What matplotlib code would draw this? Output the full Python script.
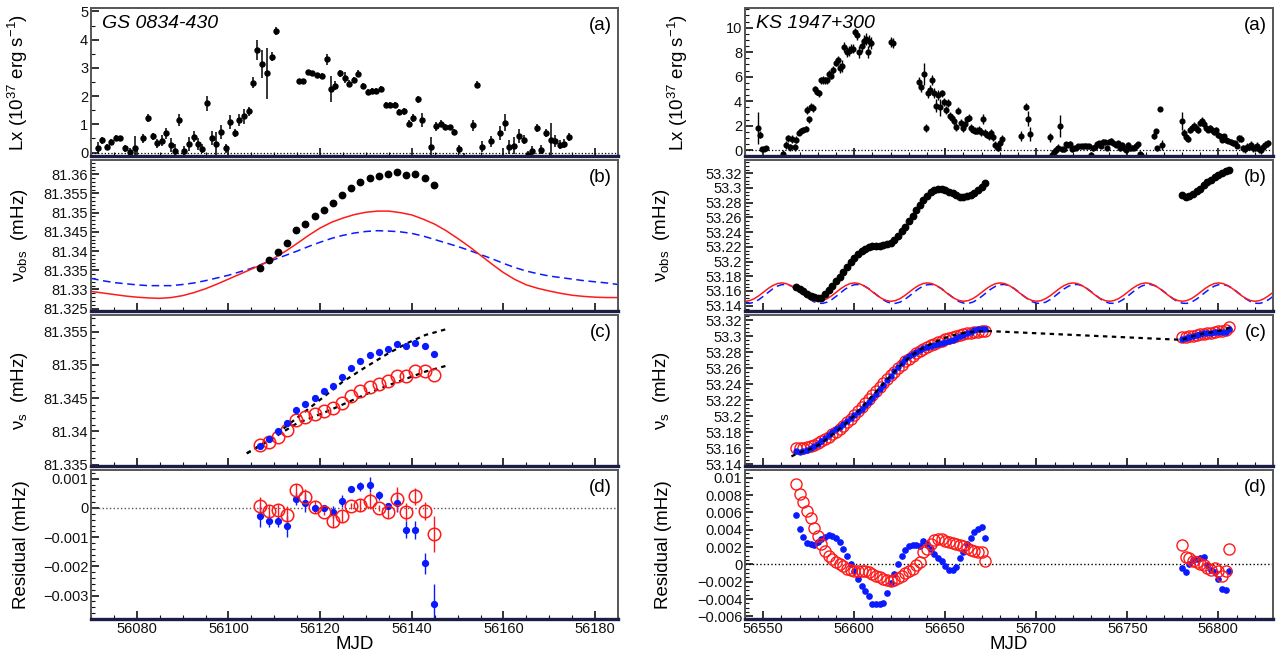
import numpy as np
import matplotlib
matplotlib.use('Agg')
import matplotlib.pyplot as plt
from matplotlib.ticker import MultipleLocator, FuncFormatter, NullFormatter

plt.rcParams['font.family'] = ['Liberation Sans', 'DejaVu Sans']
plt.rcParams['mathtext.fontset'] = 'custom'
plt.rcParams['mathtext.rm'] = 'Liberation Sans'
plt.rcParams['mathtext.it'] = 'Liberation Sans:italic'

# ---------------- GS 0834-430 ----------------
gs_lx_mjd = [56071.5, 56072.4, 56073.4, 56074.4, 56075.5, 56076.4, 56077.5, 56078.5, 56079.5, 56081.4,
             56082.4, 56083.5, 56084.4, 56085.4, 56086.4, 56087.4, 56088.4, 56089.3, 56090.4, 56091.4,
             56092.4, 56093.3, 56094.3, 56095.4, 56096.4, 56097.3, 56098.4, 56099.4, 56100.4, 56101.4,
             56102.3, 56103.4, 56104.4, 56105.4, 56106.3, 56107.3, 56108.4, 56109.4, 56110.3,
             56115.3, 56116.3, 56117.4, 56118.3, 56119.3, 56120.4, 56121.4, 56122.3, 56123.3, 56124.3,
             56125.4, 56126.4, 56127.3, 56128.3, 56129.3, 56130.4, 56131.4, 56132.3, 56133.3, 56134.3,
             56135.3, 56136.3, 56137.3, 56138.3, 56139.3, 56140.3, 56141.3, 56142.3, 56144.3, 56145.3,
             56146.3, 56147.3, 56148.3, 56149.3, 56150.3, 56151.3, 56153.3, 56154.3, 56155.3, 56157.3,
             56159.3, 56160.3, 56161.3, 56162.3, 56163.3, 56164.4, 56165.3, 56166.3, 56167.3, 56168.3,
             56169.3, 56170.3, 56171.3, 56172.3, 56173.3, 56174.3]
gs_lx = [0.18, 0.43, 0.20, 0.37, 0.53, 0.50, 0.15, 0.02, 0.18, 0.50,
         1.22, 0.58, 0.33, 0.42, 0.68, 0.26, 0.06, 1.15, 0.05, 0.31,
         0.57, 0.30, 0.14, 1.74, 0.52, 0.32, 0.74, 0.15, 1.07, 0.70,
         1.15, 1.28, 1.46, 2.48, 3.64, 3.15, 2.81, 3.40, 4.30,
         2.54, 2.53, 2.84, 2.81, 2.74, 2.72, 3.30, 2.25, 2.37, 2.81,
         2.65, 2.44, 2.57, 2.79, 2.36, 2.16, 2.17, 2.17, 2.26, 1.70,
         1.69, 1.68, 1.44, 1.46, 1.02, 1.23, 1.89, 1.15, 0.21, 0.93,
         1.02, 0.90, 0.89, 0.72, 0.12, -0.31, 0.96, 2.41, 0.21, 0.40,
         0.70, 1.05, 0.19, 0.25, 0.58, 0.46, -0.09, 0.05, 0.88, 0.11,
         0.70, 0.46, 0.41, 0.28, 0.32, 0.56]
gs_lx_err = [0.2, 0.12, 0.12, 0.1, 0.1, 0.1, 0.12, 0.15, 0.4, 0.15,
             0.15, 0.12, 0.15, 0.2, 0.2, 0.25, 0.25, 0.2, 0.2, 0.25,
             0.2, 0.2, 0.15, 0.25, 0.25, 0.4, 0.25, 0.15, 0.25, 0.15,
             0.2, 0.25, 0.15, 0.2, 0.35, 0.5, 0.9, 0.15, 0.15,
             0.08, 0.08, 0.08, 0.08, 0.08, 0.1, 0.2, 0.45, 0.15, 0.12,
             0.2, 0.12, 0.12, 0.12, 0.12, 0.1, 0.1, 0.1, 0.1, 0.1,
             0.1, 0.1, 0.12, 0.12, 0.12, 0.15, 0.12, 0.25, 0.35, 0.15,
             0.12, 0.1, 0.08, 0.1, 0.15, 0.3, 0.2, 0.12, 0.2, 0.2,
             0.25, 0.3, 0.25, 0.3, 0.25, 0.15, 0.15, 0.2, 0.15, 0.15,
             0.15, 0.6, 0.2, 0.15, 0.15, 0.15]

gs_t = [56106.8, 56108.8, 56110.8, 56112.8, 56114.8, 56116.8, 56118.8, 56120.8, 56122.8, 56124.8,
        56126.8, 56128.8, 56130.8, 56132.8, 56134.8, 56136.8, 56138.8, 56140.8, 56142.8, 56144.8]
gs_nu_obs = [81.3355, 81.3376, 81.3397, 81.3420, 81.3454, 81.3471, 81.3490, 81.3508, 81.3525, 81.3545,
             81.3564, 81.3580, 81.3591, 81.3596, 81.3600, 81.3606, 81.3599, 81.3601, 81.3591, 81.3573]

gs_model_t = [56070.0, 56072.5, 56075.0, 56077.5, 56080.0, 56082.5, 56085.0, 56087.5, 56090.0, 56092.5,
              56095.0, 56097.5, 56100.0, 56102.5, 56105.0, 56107.5, 56110.0, 56112.5, 56115.0, 56117.5,
              56120.0, 56122.5, 56125.0, 56127.5, 56130.0, 56132.5, 56135.0, 56137.5, 56140.0, 56142.5,
              56145.0, 56147.5, 56150.0, 56152.5, 56155.0, 56157.5, 56160.0, 56162.5, 56165.0, 56167.5,
              56170.0, 56172.5, 56175.0, 56177.5, 56180.0, 56182.5, 56185.0]
gs_model_red = [81.3295, 81.3291, 81.3287, 81.3283, 81.3280, 81.3278, 81.3277, 81.3279, 81.3284, 81.3292,
                81.3302, 81.3314, 81.3327, 81.3340, 81.3353, 81.3366, 81.3382, 81.3400, 81.3420, 81.3441,
                81.3460, 81.3475, 81.3486, 81.3495, 81.3501, 81.3504, 81.3504, 81.3500, 81.3494, 81.3483,
                81.3470, 81.3453, 81.3433, 81.3412, 81.3389, 81.3366, 81.3344, 81.3326, 81.3312, 81.3303,
                81.3296, 81.3290, 81.3285, 81.3282, 81.3280, 81.3279, 81.3279]
gs_model_blue = [81.3329, 81.3323, 81.3318, 81.3315, 81.3312, 81.3310, 81.3310, 81.3310, 81.3313, 81.3317,
                 81.3323, 81.3330, 81.3337, 81.3346, 81.3355, 81.3367, 81.3378, 81.3389, 81.3400, 81.3412,
                 81.3423, 81.3433, 81.3441, 81.3447, 81.3451, 81.3453, 81.3452, 81.3450, 81.3446, 81.3439,
                 81.3430, 81.3421, 81.3412, 81.3402, 81.3391, 81.3380, 81.3368, 81.3357, 81.3348, 81.3341,
                 81.3335, 81.3331, 81.3327, 81.3323, 81.3320, 81.3317, 81.3313]

gs_nus_blue = [81.33785, 81.33882, 81.33999, 81.34126, 81.34324, 81.34406, 81.34497, 81.34604, 81.34681, 81.34813,
               81.34956, 81.35057, 81.35154, 81.35195, 81.35235, 81.35312, 81.35281, 81.35332, 81.35281, 81.35169]
gs_nus_blue_err = [0.0001, 0.0001, 0.0001, 0.0001, 0.0001, 0.0001, 0.0001, 0.0001, 0.0001, 0.0001,
                   0.0001, 0.0001, 0.0001, 0.0001, 0.0001, 0.0001, 0.0001, 0.0001, 0.0001, 0.00025]
gs_nus_red = [81.33795, 81.33846, 81.33922, 81.34014, 81.34177, 81.34218, 81.34263, 81.34304, 81.34345, 81.34431,
              81.34533, 81.34609, 81.34670, 81.34711, 81.34752, 81.34838, 81.34838, 81.34915, 81.34915, 81.34854]
gs_fit_t = [56104.0, 56108.8, 56114.9, 56120.8, 56124.8, 56130.0, 56134.8, 56139.1, 56143.0, 56147.7]
gs_fit_upper = [81.3367, 81.3387, 81.3420, 81.3452, 81.3474, 81.3497, 81.3517, 81.3533, 81.3545, 81.3554]
gs_fit_lower = [81.3367, 81.3386, 81.3412, 81.3428, 81.3440, 81.3456, 81.3469, 81.3480, 81.3490, 81.3499]

gs_res_blue = [-0.00029, -0.00044, -0.00046, -0.00063, 0.00031, 0.00017, 0.00001, 0.00001, -0.00014, 0.00023,
               0.00066, 0.00074, 0.00080, 0.00044, 0.00006, 0.00017, -0.00074, -0.00075, -0.00190, -0.00330]
gs_res_blue_err = [0.00035, 0.0002, 0.0002, 0.00035, 0.0002, 0.0003, 0.0001, 0.0001, 0.0002, 0.0002,
                   0.0001, 0.00015, 0.00025, 0.00015, 0.0001, 0.0003, 0.0003, 0.0003, 0.00035, 0.0007]
gs_res_red = [0.00006, -0.00010, -0.00008, -0.00023, 0.00061, 0.00036, 0.00003, -0.00014, -0.00045, -0.00028,
              0.00007, 0.00011, 0.00025, 0.00001, -0.00014, 0.00031, -0.00014, 0.00040, -0.00010, -0.00089]
gs_res_red_err = [0.0003, 0.0002, 0.0002, 0.0003, 0.0002, 0.0003, 0.0002, 0.0001, 0.0002, 0.0002,
                  0.0001, 0.0002, 0.0003, 0.0001, 0.0002, 0.0004, 0.0003, 0.0003, 0.0003, 0.0006]

# ---------------- KS 1947+300 ----------------
ks_lx_mjd = [56547.1, 56548.2, 56549.5, 56550.4, 56551.3, 56560.6, 56562.4, 56563.5, 56564.9, 56566.0,
             56567.2, 56568.1, 56569.4, 56570.8, 56572.1, 56573.3, 56574.2, 56575.1, 56576.2, 56577.1,
             56578.2, 56579.3, 56580.5, 56581.6, 56582.7, 56583.9, 56585.0, 56586.1, 56587.5, 56588.6,
             56590.0, 56591.1, 56592.4, 56593.5, 56594.5, 56595.8, 56597.0, 56598.1, 56599.2, 56600.3,
             56601.5, 56602.8, 56604.0, 56605.1, 56606.2, 56607.3, 56608.2, 56609.1, 56620.4, 56621.1,
             56635.8, 56636.9, 56638.3, 56639.4, 56640.3, 56641.4, 56642.6, 56643.7, 56644.8, 56645.9,
             56647.1, 56648.2, 56649.3, 56650.5, 56651.6, 56652.7, 56653.8, 56654.9, 56656.1, 56657.2,
             56658.4, 56659.5, 56660.6, 56661.7, 56662.9, 56664.0, 56665.1, 56666.3, 56667.4, 56668.5,
             56669.6, 56670.8, 56671.9, 56673.0, 56674.2, 56675.3, 56676.4, 56677.5, 56678.7, 56679.8,
             56680.9, 56691.8, 56694.5, 56695.4, 56696.3, 56707.6, 56708.7, 56709.8, 56711.0, 56712.1,
             56713.0, 56714.1, 56715.2, 56716.4, 56717.5, 56718.6, 56719.8, 56720.9, 56722.0, 56723.1,
             56724.3, 56725.4, 56726.5, 56727.7, 56728.8, 56729.9, 56731.0, 56732.2, 56733.3, 56734.4,
             56735.6, 56736.7, 56737.8, 56738.9, 56740.1, 56741.2, 56742.3, 56743.5, 56744.6, 56745.7,
             56746.8, 56748.0, 56749.1, 56750.2, 56751.4, 56752.5, 56753.6, 56754.7, 56755.9, 56757.0,
             56757.7, 56764.4, 56765.6, 56766.3, 56767.8, 56769.0, 56779.8, 56780.9, 56782.1, 56783.2,
             56784.3, 56785.4, 56786.6, 56787.7, 56788.8, 56790.0, 56791.1, 56792.0, 56793.1, 56794.3,
             56795.4, 56796.5, 56797.7, 56798.8, 56799.9, 56801.0, 56802.1, 56803.3, 56804.4, 56805.5,
             56806.7, 56807.8, 56808.9, 56810.0, 56811.2, 56812.3, 56813.4, 56814.6, 56815.7, 56816.8,
             56817.9, 56819.1, 56820.2, 56821.3, 56822.5, 56823.6, 56824.7, 56825.8, 56827.0]
ks_lx = [1.84, 1.28, 0.10, 0.10, 0.20, -0.25, 0.45, 1.00, 0.25, 0.92,
         0.25, 0.87, 1.42, 1.62, 1.70, 1.76, 3.30, 2.54, 3.58, 3.46,
         4.97, 4.78, 4.64, 5.70, 5.75, 5.70, 5.70, 6.26, 6.09, 6.54,
         7.15, 7.37, 6.73, 6.90, 8.40, 8.00, 8.10, 8.30, 8.30, 9.66,
         9.40, 8.00, 8.50, 8.90, 9.05, 8.00, 8.90, 8.75, 8.80, 8.75,
         5.60, 5.14, 6.20, 1.84, 4.70, 4.90, 5.75, 4.70, 3.66, 4.50,
         3.50, 4.64, 3.94, 3.30, 3.88, 2.82, 2.68, 2.40, 1.90, 3.24,
         2.26, 1.84, 2.12, 2.54, 2.68, 1.84, 1.70, 1.62, 1.62, 1.70,
         1.50, 2.54, 1.42, 1.28, 1.15, 1.42, 1.06, 0.45, 0.22, 0.59,
         0.92, 1.20, 3.58, 2.60, 1.34, 1.06, -0.39, -0.10, 0.05, 0.22,
         1.98, 0.08, 0.10, 0.50, 0.45, 0.55, 0.10, 0.17, 0.22, 0.36,
         0.34, 0.36, 0.39, 0.36, 0.34, -0.33, 0.17, 0.25, 0.50, 0.59,
         0.39, 0.73, 0.67, 0.22, 0.73, 0.78, 0.59, 0.45, 0.59, 0.17,
         0.45, 0.22, 0.03, 0.45, 0.17, 0.22, 0.22, 0.39, 0.50, -0.25,
         -0.39, 1.20, 1.56, 0.17, 3.38, 0.45, 2.40, 1.42, 1.06, 0.95,
         1.70, 1.84, 1.98, 1.84, 1.70, 2.26, 2.40, 2.18, 1.84, 1.70,
         1.84, 1.70, 1.48, 1.70, 1.28, 1.15, 0.87, 1.15, 0.87, 0.78,
         0.73, 0.59, 0.59, 0.39, 1.00, 0.95, 0.17, 0.10, 0.30, 0.30,
         0.45, 0.17, 0.22, 0.39, 0.10, 0.00, 0.30, 0.45, 0.59]
ks_lx_err = [1.3, 0.3, 0.15, 0.15, 0.15, 0.3, 0.3, 0.3, 0.3, 0.3,
             0.3, 0.3, 0.2, 0.2, 0.2, 0.2, 0.3, 0.3, 0.3, 0.3,
             0.3, 0.3, 0.3, 0.3, 0.3, 0.3, 0.3, 0.3, 0.3, 0.3,
             0.3, 0.3, 0.4, 0.5, 0.4, 0.4, 0.4, 0.4, 0.4, 0.3,
             0.4, 0.5, 0.5, 0.5, 0.5, 0.5, 0.5, 0.5, 0.4, 0.4,
             0.4, 0.4, 0.9, 0.3, 0.4, 0.4, 0.4, 0.4, 0.5, 0.4,
             0.7, 0.3, 0.3, 0.3, 0.3, 0.3, 0.3, 0.3, 0.3, 0.3,
             0.3, 0.3, 0.3, 0.3, 0.3, 0.3, 0.3, 0.3, 0.3, 0.3,
             0.3, 0.4, 0.3, 0.3, 0.3, 0.3, 0.3, 0.3, 0.3, 0.3,
             0.3, 0.4, 0.3, 0.6, 0.6, 0.4, 0.4, 0.3, 0.3, 0.3,
             0.9, 0.2, 0.2, 0.2, 0.2, 0.2, 0.2, 0.2, 0.2, 0.2,
             0.2, 0.2, 0.2, 0.2, 0.2, 0.2, 0.2, 0.2, 0.2, 0.2,
             0.2, 0.2, 0.2, 0.2, 0.2, 0.2, 0.2, 0.2, 0.2, 0.2,
             0.2, 0.2, 0.2, 0.2, 0.2, 0.2, 0.2, 0.2, 0.2, 0.2,
             0.2, 0.3, 0.2, 0.2, 0.15, 0.4, 0.7, 0.3, 0.3, 0.3,
             0.3, 0.3, 0.3, 0.3, 0.3, 0.3, 0.3, 0.3, 0.2, 0.2,
             0.2, 0.2, 0.2, 0.2, 0.2, 0.2, 0.2, 0.2, 0.2, 0.2,
             0.2, 0.2, 0.2, 0.2, 0.3, 0.3, 0.3, 0.3, 0.3, 0.3,
             0.3, 0.3, 0.3, 0.3, 0.3, 0.3, 0.3, 0.3, 0.3]

ks_t1 = [56568, 56570, 56572, 56574, 56576, 56578, 56580, 56582, 56584, 56586,
         56588, 56590, 56592, 56594, 56596, 56598, 56600, 56602, 56604, 56606,
         56608, 56610, 56612, 56614, 56616, 56618, 56620, 56622, 56624, 56626,
         56628, 56630, 56632, 56634, 56636, 56638, 56640, 56642, 56644, 56646,
         56648, 56650, 56652, 56654, 56656, 56658, 56660, 56662, 56664, 56666,
         56668, 56670, 56672]
ks_t2 = [56780, 56782, 56784, 56786, 56788, 56790, 56792, 56794, 56796, 56798,
         56800, 56802, 56804, 56806]

ks_nu_obs1 = [53.1654, 53.1630, 53.1595, 53.1560, 53.1532, 53.1512, 53.1501, 53.1506, 53.1560, 53.1620,
              53.1672, 53.1730, 53.1790, 53.1857, 53.1925, 53.1997, 53.2052, 53.2102, 53.2150, 53.2176,
              53.2195, 53.2207, 53.2212, 53.2215, 53.2222, 53.2233, 53.2255, 53.2290, 53.2346, 53.2410,
              53.2476, 53.2546, 53.2620, 53.2695, 53.2770, 53.2840, 53.2897, 53.2940, 53.2973, 53.2990,
              53.2990, 53.2976, 53.2950, 53.2925, 53.2902, 53.2882, 53.2875, 53.2884, 53.2904, 53.2932,
              53.2970, 53.3015, 53.3062]
ks_nu_obs2 = [53.2898, 53.2874, 53.2890, 53.2915, 53.2955, 53.2990, 53.3035, 53.3075, 53.3114, 53.3145,
              53.3178, 53.3205, 53.3230, 53.3248]

ks_orb_t = [56540.2, 56542.7, 56545.2, 56547.7, 56550.2, 56552.7, 56555.2, 56557.7, 56560.2, 56562.7, 56565.2, 56567.7, 56570.2, 56572.7, 56575.2, 56577.7,
            56580.2, 56582.7, 56585.2, 56587.7, 56590.2, 56592.7, 56595.2, 56597.7, 56600.2, 56602.7, 56605.2, 56607.7, 56610.2, 56612.7, 56615.2, 56617.7,
            56620.2, 56622.7, 56625.2, 56627.7, 56630.2, 56632.7, 56635.2, 56637.7, 56640.2, 56642.7, 56645.2, 56647.7, 56650.2, 56652.7, 56655.2, 56657.7,
            56660.2, 56662.7, 56665.2, 56667.7, 56670.2, 56672.7, 56675.2, 56677.7, 56680.2, 56682.7, 56685.2, 56687.7, 56690.2, 56692.7, 56695.2, 56697.7,
            56700.2, 56702.7, 56705.2, 56707.7, 56710.2, 56712.7, 56715.2, 56717.7, 56720.2, 56722.7, 56725.2, 56727.7, 56730.2, 56732.7, 56735.2, 56737.7,
            56740.2, 56742.7, 56745.2, 56747.7, 56750.2, 56752.7, 56755.2, 56757.7, 56760.2, 56762.7, 56765.2, 56767.7, 56770.2, 56772.7, 56775.2, 56777.7,
            56780.2, 56782.7, 56785.2, 56787.7, 56790.2, 56792.7, 56795.2, 56797.7, 56800.2, 56802.7, 56805.2, 56807.7, 56810.2, 56812.7, 56815.2, 56817.7,
            56820.2, 56822.7, 56825.2, 56827.7, 56830.2]
ks_orb_red = [53.1460, 53.1470, 53.1497, 53.1537, 53.1585, 53.1633, 53.1673, 53.1700, 53.1710, 53.1700, 53.1673, 53.1633, 53.1585, 53.1537, 53.1497, 53.1470,
              53.1460, 53.1470, 53.1497, 53.1537, 53.1585, 53.1633, 53.1673, 53.1700, 53.1710, 53.1700, 53.1673, 53.1633, 53.1585, 53.1537, 53.1497, 53.1470,
              53.1460, 53.1470, 53.1497, 53.1537, 53.1585, 53.1633, 53.1673, 53.1700, 53.1710, 53.1700, 53.1673, 53.1633, 53.1585, 53.1537, 53.1497, 53.1470,
              53.1460, 53.1470, 53.1497, 53.1537, 53.1585, 53.1633, 53.1673, 53.1700, 53.1710, 53.1700, 53.1673, 53.1633, 53.1585, 53.1537, 53.1497, 53.1470,
              53.1460, 53.1470, 53.1497, 53.1537, 53.1585, 53.1633, 53.1673, 53.1700, 53.1710, 53.1700, 53.1673, 53.1633, 53.1585, 53.1537, 53.1497, 53.1470,
              53.1460, 53.1470, 53.1497, 53.1537, 53.1585, 53.1633, 53.1673, 53.1700, 53.1710, 53.1700, 53.1673, 53.1633, 53.1585, 53.1537, 53.1497, 53.1470,
              53.1460, 53.1470, 53.1497, 53.1537, 53.1585, 53.1633, 53.1673, 53.1700, 53.1710, 53.1700, 53.1673, 53.1633, 53.1585, 53.1537, 53.1497, 53.1470,
              53.1460, 53.1470, 53.1497, 53.1537, 53.1585]
ks_orb_blue = [53.1434, 53.1432, 53.1449, 53.1484, 53.1530, 53.1580, 53.1628, 53.1665, 53.1686, 53.1688, 53.1671, 53.1636, 53.1590, 53.1540, 53.1492, 53.1455,
               53.1434, 53.1432, 53.1449, 53.1484, 53.1530, 53.1580, 53.1628, 53.1665, 53.1686, 53.1688, 53.1671, 53.1636, 53.1590, 53.1540, 53.1492, 53.1455,
               53.1434, 53.1432, 53.1449, 53.1484, 53.1530, 53.1580, 53.1628, 53.1665, 53.1686, 53.1688, 53.1671, 53.1636, 53.1590, 53.1540, 53.1492, 53.1455,
               53.1434, 53.1432, 53.1449, 53.1484, 53.1530, 53.1580, 53.1628, 53.1665, 53.1686, 53.1688, 53.1671, 53.1636, 53.1590, 53.1540, 53.1492, 53.1455,
               53.1434, 53.1432, 53.1449, 53.1484, 53.1530, 53.1580, 53.1628, 53.1665, 53.1686, 53.1688, 53.1671, 53.1636, 53.1590, 53.1540, 53.1492, 53.1455,
               53.1434, 53.1432, 53.1449, 53.1484, 53.1530, 53.1580, 53.1628, 53.1665, 53.1686, 53.1688, 53.1671, 53.1636, 53.1590, 53.1540, 53.1492, 53.1455,
               53.1434, 53.1432, 53.1449, 53.1484, 53.1530, 53.1580, 53.1628, 53.1665, 53.1686, 53.1688, 53.1671, 53.1636, 53.1590, 53.1540, 53.1492, 53.1455,
               53.1434, 53.1432, 53.1449, 53.1484, 53.1530]

ks_nus_red1 = [53.1600, 53.1595, 53.1600, 53.1610, 53.1625, 53.1640, 53.1660, 53.1685, 53.1710, 53.1740,
               53.1770, 53.1805, 53.1840, 53.1880, 53.1920, 53.1965, 53.2010, 53.2060, 53.2110, 53.2160,
               53.2210, 53.2265, 53.2315, 53.2365, 53.2415, 53.2465, 53.2510, 53.2555, 53.2600, 53.2645,
               53.2685, 53.2720, 53.2755, 53.2785, 53.2815, 53.2840, 53.2865, 53.2885, 53.2905, 53.2925,
               53.2945, 53.2960, 53.2975, 53.2990, 53.3002, 53.3015, 53.3025, 53.3035, 53.3045, 53.3052,
               53.3058, 53.3062, 53.3060]
ks_nus_blue1 = [53.1564, 53.1555, 53.1560, 53.1573, 53.1595, 53.1620, 53.1653, 53.1690, 53.1727, 53.1764,
                53.1797, 53.1833, 53.1866, 53.1900, 53.1935, 53.1972, 53.2010, 53.2051, 53.2093, 53.2137,
                53.2182, 53.2230, 53.2282, 53.2334, 53.2388, 53.2450, 53.2507, 53.2562, 53.2617, 53.2668,
                53.2712, 53.2749, 53.2783, 53.2808, 53.2833, 53.2853, 53.2871, 53.2879, 53.2889, 53.2903,
                53.2920, 53.2931, 53.2943, 53.2959, 53.2975, 53.3000, 53.3018, 53.3040, 53.3059, 53.3075,
                53.3085, 53.3091, 53.3087]
ks_nus_red2 = [53.2990, 53.2995, 53.3000, 53.3008, 53.3015, 53.3022, 53.3030, 53.3035, 53.3042, 53.3055,
               53.3060, 53.3065, 53.3080, 53.3115]
ks_nus_blue2 = [53.2963, 53.2978, 53.2994, 53.3009, 53.3018, 53.3028, 53.3040, 53.3038, 53.3042, 53.3050,
                53.3051, 53.3050, 53.3059, 53.3089]
ks_fit_t = [56565.5, 56570, 56575, 56580, 56585, 56590, 56595, 56600, 56605, 56610, 56615, 56620,
            56625, 56630, 56635, 56640, 56645, 56650, 56655, 56660, 56665, 56672.6,
            56779.8, 56785, 56790, 56795, 56800, 56807]
ks_fit = [53.1495, 53.1545, 53.1580, 53.1635, 53.1715, 53.1805, 53.1900, 53.2005, 53.2130, 53.2255, 53.2380, 53.2505,
          53.2625, 53.2730, 53.2815, 53.2880, 53.2935, 53.2980, 53.3015, 53.3040, 53.3055, 53.3066,
          53.2955, 53.2995, 53.3025, 53.3045, 53.3065, 53.3112]

ks_res_red1 = [0.0093, 0.0081, 0.0072, 0.0062, 0.0054, 0.0042, 0.0033, 0.0024, 0.0015, 0.0010,
               0.0006, 0.0003, 0.0000, -0.0002, -0.0005, -0.0007, -0.0008, -0.0008, -0.0008, -0.0008,
               -0.0009, -0.0011, -0.0013, -0.0015, -0.0017, -0.0018, -0.0019, -0.0018, -0.0016, -0.0013,
               -0.0010, -0.0008, -0.0005, -0.0001, 0.0003, 0.0014, 0.0018, 0.0024, 0.0028, 0.0029,
               0.0029, 0.0027, 0.0026, 0.0025, 0.0024, 0.0022, 0.0021, 0.0019, 0.0017, 0.0015,
               0.0014, 0.0014, 0.0004]
ks_res_blue1 = [0.0057, 0.0041, 0.0032, 0.0025, 0.0024, 0.0022, 0.0026, 0.0029, 0.0032, 0.0034,
                0.0033, 0.0031, 0.0026, 0.0018, 0.0010, 0.0000, -0.0008, -0.0017, -0.0025, -0.0031,
                -0.0037, -0.0046, -0.0046, -0.0046, -0.0044, -0.0033, -0.0022, -0.0011, 0.0001, 0.0010,
                0.0017, 0.0021, 0.0023, 0.0022, 0.0021, 0.0027, 0.0024, 0.0018, 0.0012, 0.0007,
                0.0004, -0.0002, -0.0006, -0.0006, -0.0003, 0.0007, 0.0014, 0.0024, 0.0031, 0.0038,
                0.0041, 0.0043, 0.0031]
ks_res_red2 = [0.0023, 0.0008, 0.0007, 0.0004, 0.0003, 0.0001, -0.0001, -0.0004, -0.0006, -0.0004,
               -0.0008, -0.0013, -0.0008, 0.0018]
ks_res_blue2 = [-0.0004, -0.0009, 0.0001, 0.0005, 0.0006, 0.0007, 0.0009, -0.0001, -0.0006, -0.0009,
                -0.0017, -0.0028, -0.0029, -0.0008]

# ---------------- figure ----------------
RED = '#ff1a1a'
BLUE = '#0a1aff'
fig = plt.figure(figsize=(12.84, 6.55), dpi=100)

rows_px = [(8, 156), (160, 311), (315, 466), (470, 619)]
cols_px = [(91, 618), (745, 1273)]
W, H = 1284.0, 655.0


def make_ax(col, row):
    x0, x1 = cols_px[col]
    y0, y1 = rows_px[row]
    return fig.add_axes([x0 / W, 1 - y1 / H, (x1 - x0) / W, (y1 - y0) / H])


def fmt(v, pos):
    s = f'{round(v, 6):g}'
    if s == '-0':
        s = '0'
    return s.replace('-', '\u2212')


def style(ax, xlim, xmaj, xmin, ylim, ymaj, ymin, bottom_labels):
    ax.set_xlim(*xlim)
    ax.set_ylim(*ylim)
    ax.xaxis.set_major_locator(MultipleLocator(xmaj))
    ax.xaxis.set_minor_locator(MultipleLocator(xmin))
    ax.yaxis.set_major_locator(MultipleLocator(ymaj))
    ax.yaxis.set_minor_locator(MultipleLocator(ymin))
    ax.yaxis.set_major_formatter(FuncFormatter(fmt))
    if bottom_labels:
        ax.xaxis.set_major_formatter(FuncFormatter(lambda v, p: f'{v:.0f}'))
    else:
        ax.xaxis.set_major_formatter(NullFormatter())
    for s in ax.spines.values():
        s.set_linewidth(1.4)
        s.set_color('#555555')
    ax.spines['bottom'].set_color('#1b1d45')
    ax.spines['bottom'].set_linewidth(2.4)
    ax.tick_params(which='both', direction='in', top=False, right=False,
                   labelsize=10.5, colors='#111111', pad=2)
    ax.tick_params(which='major', length=6, width=1.2)
    ax.tick_params(which='minor', length=3, width=0.8)


def panel_label(ax, s):
    ax.text(0.988, 0.94, s, transform=ax.transAxes, ha='right', va='top', fontsize=13.5)


ylab_fs = 13.5
left_lab_x = -0.115
right_lab_x = -0.138

# ---- GS 0834-430 ----
L = [make_ax(0, r) for r in range(4)]
GX = (56070, 56185)

ax = L[0]
ax.axhline(0, color='k', ls=':', lw=0.9)
ax.errorbar(gs_lx_mjd, gs_lx, yerr=gs_lx_err, fmt='o', color='k', ms=3.6, elinewidth=1.1, capsize=0)
style(ax, GX, 20, 5, (-0.12, 5.12), 1, 0.5, False)
ax.set_ylabel('Lx (10$^{37}$ erg s$^{-1}$)', fontsize=ylab_fs)
ax.text(0.02, 0.95, 'GS 0834-430', transform=ax.transAxes, ha='left', va='top',
        fontsize=14, style='italic')
panel_label(ax, '(a)')

ax = L[1]
ax.plot(gs_model_t, gs_model_blue, color=BLUE, ls=(0, (5, 3)), lw=1.1)
ax.plot(gs_model_t, gs_model_red, color=RED, ls='-', lw=1.1)
ax.plot(gs_t, gs_nu_obs, 'o', color='k', ms=4.6)
style(ax, GX, 20, 5, (81.3244, 81.3637), 0.005, 0.001, False)
ax.set_ylabel('ν$_{\\mathrm{obs}}$  (mHz)', fontsize=ylab_fs)
panel_label(ax, '(b)')

ax = L[2]
ax.plot(gs_fit_t, gs_fit_upper, color='k', ls=(0, (2, 2)), lw=1.6)
ax.plot(gs_fit_t, gs_fit_lower, color='k', ls=(0, (2, 2)), lw=1.6)
ax.errorbar(gs_t, gs_nus_blue, yerr=gs_nus_blue_err, fmt='o', color=BLUE, ms=4.2,
            elinewidth=1.0, capsize=0)
ax.plot(gs_t, gs_nus_red, 'o', mfc='none', mec=RED, ms=9, mew=1.1)
style(ax, GX, 20, 5, (81.3348, 81.3575), 0.005, 0.001, False)
ax.set_ylabel('ν$_{\\mathrm{s}}$  (mHz)', fontsize=ylab_fs)
panel_label(ax, '(c)')

ax = L[3]
ax.axhline(0, color='#555555', ls=':', lw=1.0)
ax.errorbar(gs_t, gs_res_blue, yerr=gs_res_blue_err, fmt='o', color=BLUE, ms=4.2,
            elinewidth=1.0, capsize=0)
ax.errorbar(gs_t, gs_res_red, yerr=gs_res_red_err, fmt='o', mfc='none', mec=RED, color=RED,
            ms=9, mew=1.1, elinewidth=1.0, capsize=0)
style(ax, GX, 20, 5, (-0.0038, 0.0013), 0.001, 0.0002, True)
ax.set_ylabel('Residual (mHz)', fontsize=ylab_fs)
ax.set_xlabel('MJD', fontsize=ylab_fs, labelpad=0)
panel_label(ax, '(d)')

for ax in L:
    ax.yaxis.set_label_coords(left_lab_x, 0.5)

# ---- KS 1947+300 ----
R = [make_ax(1, r) for r in range(4)]
KX = (56540, 56830)

ax = R[0]
ax.axhline(0, color='k', ls=':', lw=0.9)
ax.errorbar(ks_lx_mjd, ks_lx, yerr=ks_lx_err, fmt='o', color='k', ms=3.4, elinewidth=1.0, capsize=0)
style(ax, KX, 50, 10, (-0.45, 11.6), 2, 0.5, False)
ax.set_ylabel('Lx (10$^{37}$ erg s$^{-1}$)', fontsize=ylab_fs)
ax.text(0.02, 0.95, 'KS 1947+300', transform=ax.transAxes, ha='left', va='top',
        fontsize=14, style='italic')
panel_label(ax, '(a)')

ax = R[1]
ax.plot(ks_orb_t, ks_orb_blue, color=BLUE, ls=(0, (5, 3)), lw=1.1)
ax.plot(ks_orb_t, ks_orb_red, color=RED, ls='-', lw=1.1)
ax.plot(ks_t1, ks_nu_obs1, 'o', color='k', ms=4.6)
ax.plot(ks_t2, ks_nu_obs2, 'o', color='k', ms=4.6)
style(ax, KX, 50, 10, (53.1328, 53.338), 0.02, 0.005, False)
ax.set_ylabel('ν$_{\\mathrm{obs}}$  (mHz)', fontsize=ylab_fs)
panel_label(ax, '(b)')

ax = R[2]
ax.plot(ks_t1, ks_nus_red1, 'o', mfc='none', mec=RED, ms=8, mew=1.0)
ax.plot(ks_t2, ks_nus_red2, 'o', mfc='none', mec=RED, ms=8, mew=1.0)
ax.plot(ks_t1, ks_nus_blue1, 'o', color=BLUE, ms=3.6)
ax.plot(ks_t2, ks_nus_blue2, 'o', color=BLUE, ms=3.6)
ax.plot(ks_fit_t, ks_fit, color='k', ls=(0, (2, 2)), lw=1.6)
style(ax, KX, 50, 10, (53.1375, 53.3266), 0.02, 0.005, False)
ax.set_ylabel('ν$_{\\mathrm{s}}$  (mHz)', fontsize=ylab_fs)
panel_label(ax, '(c)')

ax = R[3]
ax.axhline(0, color='k', ls=':', lw=1.0)
ax.plot(ks_t1, ks_res_blue1, 'o', color=BLUE, ms=3.8)
ax.plot(ks_t2, ks_res_blue2, 'o', color=BLUE, ms=3.8)
ax.plot(ks_t1, ks_res_red1, 'o', mfc='none', mec=RED, ms=8, mew=1.0)
ax.plot(ks_t2, ks_res_red2, 'o', mfc='none', mec=RED, ms=8, mew=1.0)
style(ax, KX, 50, 10, (-0.0063, 0.0109), 0.002, 0.0005, True)
ax.set_ylabel('Residual (mHz)', fontsize=ylab_fs)
ax.set_xlabel('MJD', fontsize=ylab_fs, labelpad=0)
panel_label(ax, '(d)')

for ax in R:
    ax.yaxis.set_label_coords(right_lab_x, 0.5)
R[0].yaxis.set_label_coords(-0.104, 0.5)

fig.savefig('out.png', dpi=100)
